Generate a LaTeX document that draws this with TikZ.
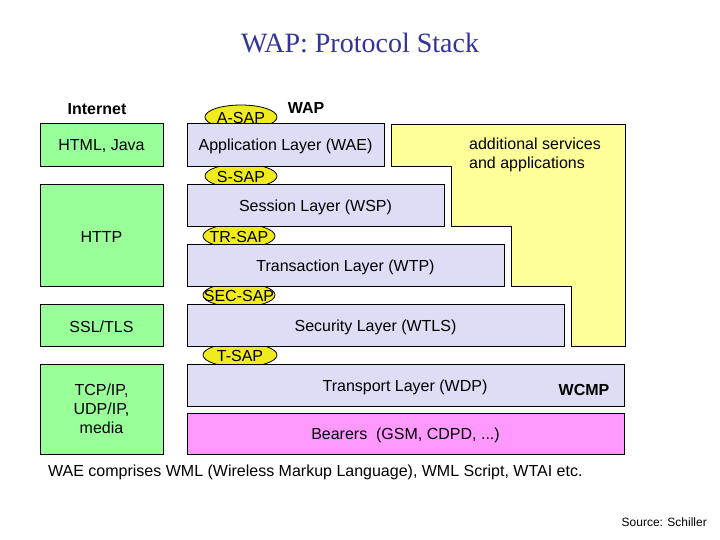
\documentclass[tikz,border=0pt]{standalone}
\usepackage{fontspec}
\setmainfont{Liberation Sans}
\newfontfamily\titlefont{Liberation Serif}
\usetikzlibrary{shapes.geometric}
\definecolor{wgreen}{RGB}{153,255,153}
\definecolor{wlav}{RGB}{221,221,245}
\definecolor{wyellow}{RGB}{255,255,153}
\definecolor{wpink}{RGB}{255,153,255}
\definecolor{sapyellow}{RGB}{240,235,30}
\definecolor{titleblue}{RGB}{51,51,153}
\begin{document}
\begin{tikzpicture}[x=1pt,y=-1pt,
  every node/.style={font=\fontsize{16}{19}\selectfont, inner sep=0pt},
  greenbox/.style={draw, fill=wgreen, line width=0.8pt, minimum width=123pt, align=center},
  layerbox/.style={draw, fill=wlav, line width=0.8pt},
  bearerbox/.style={draw, fill=wpink, line width=0.8pt},
  sapshape/.style={ellipse, draw, fill=sapyellow, line width=0.8pt, minimum width=72pt, minimum height=24pt},
  txt/.style={font=\fontsize{16}{19}\selectfont, yshift=-2pt},
  saptxt/.style={font=\fontsize{16}{19}\selectfont, yshift=-0.5pt},
  boldlabel/.style={font=\fontsize{16}{19}\selectfont\bfseries, yshift=-1pt}]
\path[use as bounding box, fill=white] (0,0) rectangle (720,540);

% title
\node[font=\titlefont\fontsize{28}{32}\selectfont, text=titleblue] (title) at (360,43) {WAP: Protocol Stack};

% column headers
\node[boldlabel] (internet) at (97,108) {Internet};
\node[boldlabel] (wap) at (306,107) {WAP};

% SAP ellipses (behind the layers)
\node[sapshape] (asap) at (241,117) {};
\node[sapshape] (ssap) at (241,176) {};
\node[sapshape] (trsap) at (239,236) {};
\node[sapshape] (secsap) at (239,295) {};
\node[sapshape, minimum width=74pt] (tsap) at (240,355) {};

% yellow additional services area
\draw[fill=wyellow, line width=0.8pt] (391,124) -- (625,124) -- (625,346) -- (571,346) -- (571,286)
  -- (511,286) -- (511,226) -- (451,226) -- (451,166) -- (391,166) -- cycle;
\node[anchor=north west, align=left] (addl) at (469,138) {additional services\\and applications};

% green Internet boxes
\node[draw, fill=wgreen, line width=0.8pt, minimum width=123pt, minimum height=43pt] (html) at (101.5,144.5) {};
\node[txt] (htmlL) at (html) {HTML, Java};
\node[draw, fill=wgreen, line width=0.8pt, minimum width=123pt, minimum height=102pt] (http) at (101.5,235) {};
\node[txt] (httpL) at (http) {HTTP};
\node[draw, fill=wgreen, line width=0.8pt, minimum width=123pt, minimum height=42pt] (ssl) at (101.5,325) {};
\node[txt] (sslL) at (ssl) {SSL/TLS};
\node[greenbox, minimum height=90pt] (tcp) at (101.5,409) {TCP/IP,\\UDP/IP,\\media};

% WAP layers
\node[layerbox, minimum width=197pt, minimum height=43pt] (wae) at (285.5,144.5) {};
\node[txt] (waeL) at (wae) {Application Layer (WAE)};
\node[layerbox, minimum width=257pt, minimum height=42pt] (wsp) at (315.5,205) {};
\node[txt] (wspL) at (wsp) {Session Layer (WSP)};
\node[layerbox, minimum width=317pt, minimum height=42pt] (wtp) at (345.5,265) {};
\node[txt] (wtpL) at (wtp) {Transaction Layer (WTP)};
\node[layerbox, minimum width=377pt, minimum height=42pt] (wtls) at (375.5,325) {};
\node[txt] (wtlsL) at (wtls) {Security Layer (WTLS)};
\node[layerbox, minimum width=437pt, minimum height=42pt] (wdp) at (405.5,385) {};
\node[txt] (wdpL) at (405,385) {Transport Layer (WDP)};
\node[boldlabel] (wcmp) at (584,389) {WCMP};
\node[bearerbox, minimum width=437pt, minimum height=41pt] (bear) at (405.5,433.5) {};
\node[txt] (bearL) at (bear) {Bearers\ \ (GSM, CDPD, ...)};

% SAP labels
\node[saptxt] (asapL) at (asap) {A-SAP};
\node[saptxt] (ssapL) at (ssap) {S-SAP};
\node[saptxt] (trsapL) at (trsap) {TR-SAP};
\node[saptxt] (secsapL) at (secsap) {SEC-SAP};
\node[saptxt] (tsapL) at (tsap) {T-SAP};

% notes
\node[anchor=west] (note) at (48,472) {WAE comprises WML (Wireless Markup Language), WML Script, WTAI etc.};
\node[anchor=east, font=\fontsize{12}{14}\selectfont] (src) at (707,522) {Source: Schiller};
\end{tikzpicture}
\end{document}
